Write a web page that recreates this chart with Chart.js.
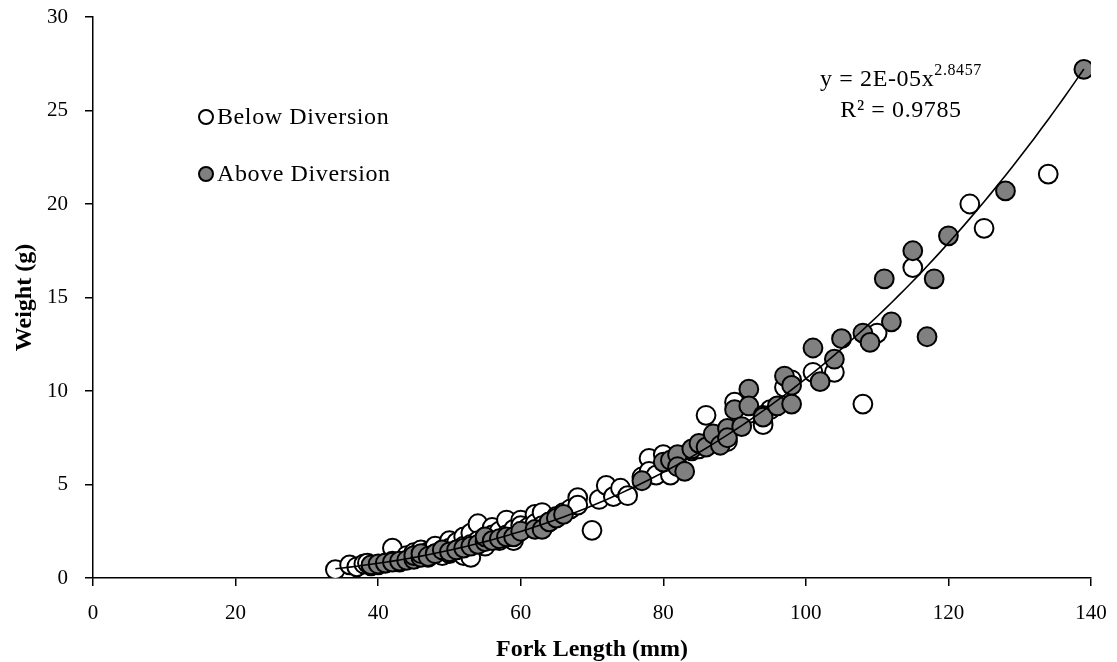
<!DOCTYPE html>
<html>
<head>
<meta charset="utf-8">
<script src="https://cdn.jsdelivr.net/npm/chart.js@4.4.0/dist/chart.umd.min.js"></script>
<style>
html, body { margin: 0; padding: 0; background: #fff; }
</style>
</head>
<body>
<canvas id="myChart" width="1117" height="662"></canvas>
<script>
// Below Diversion (white markers)
var belowX = [34, 36, 37, 38, 38.5, 39, 40, 41, 42, 42, 43, 44, 44, 45, 45, 46, 46, 47, 47, 48, 48, 49, 49,
    50, 50, 50, 51, 51, 52, 52, 52, 53, 53, 53, 54, 54, 55, 55, 56, 56, 57, 57, 58, 58, 59, 59, 60, 60,
    61, 62, 62, 63, 63, 64, 65, 66, 67, 68, 68, 70, 71, 72, 73, 74, 75, 77, 78, 78, 79, 80, 81, 82, 84,
    85, 86, 87, 88, 89, 90, 91, 92, 94, 95, 97, 98, 101, 104, 108, 110, 115, 123, 125, 134];
var belowY = [0.45, 0.7, 0.6, 0.75, 0.8, 0.65, 0.7, 0.8, 1.6, 0.9, 0.85, 1.0, 1.2, 1.1, 1.35, 1.5, 1.2, 1.4, 1.1, 1.7, 1.3, 1.5, 1.2,
    2.0, 1.6, 1.3, 1.9, 1.5, 2.2, 1.7, 1.2, 2.4, 1.1, 1.8, 2.9, 2.0, 2.2, 1.7, 2.7, 2.3, 2.5, 2.0, 3.1, 2.3, 2.6, 2.0, 3.1, 2.8,
    2.7, 3.4, 2.9, 3.5, 2.8, 3.0, 3.3, 3.5, 3.7, 4.3, 3.9, 2.55, 4.2, 4.95, 4.35, 4.8, 4.4, 5.4, 6.4, 5.7, 5.5, 6.6, 5.5, 6.0, 6.8,
    6.9, 8.7, 7.2, 7.6, 7.3, 9.4, 8.5, 8.8, 8.2, 9.0, 10.2, 10.6, 11.0, 11.0, 9.3, 13.1, 16.6, 20.0, 18.7, 21.6];

// Above Diversion (grey markers)
var aboveX = [39, 40, 41, 42, 43, 44, 45, 45, 46, 46, 47, 48, 49, 50, 51, 52, 53, 54, 55, 55, 56, 57, 58, 59,
    60, 62, 63, 64, 65, 66, 77, 80, 81, 82, 82, 83, 84, 85, 86, 87, 88, 89, 89, 90, 91, 92, 92, 94, 94,
    96, 97, 98, 98, 101, 102, 104, 105, 108, 109, 111, 112, 115, 117, 118, 120, 128, 139];
var aboveY = [0.7, 0.75, 0.8, 0.85, 0.9, 0.95, 1.0, 1.2, 1.1, 1.3, 1.15, 1.3, 1.5, 1.4, 1.5, 1.6, 1.7, 1.8, 1.95, 2.2, 2.0, 2.1, 2.2, 2.2,
    2.5, 2.6, 2.6, 3.0, 3.2, 3.4, 5.2, 6.2, 6.3, 6.6, 5.95, 5.7, 6.9, 7.2, 7.0, 7.7, 7.1, 8.0, 7.5, 9.0, 8.1, 10.1, 9.2, 8.7, 8.6,
    9.2, 10.8, 10.3, 9.3, 12.3, 10.5, 11.7, 12.8, 13.1, 12.6, 16.0, 13.7, 17.5, 12.9, 16.0, 18.3, 20.7, 27.2];

var xTicks = [0, 20, 40, 60, 80, 100, 120, 140];
var yTicks = [0, 5, 10, 15, 20, 25, 30];

// power trendline y = a * x^b as fitted in the chart
var fitA = 2.17e-5;
var fitB = 2.8457;
var fitFrom = 34, fitTo = 139;

function toPoints(xs, ys) {
    return xs.map(function (x, i) { return { x: x, y: ys[i] }; });
}

var trend = [];
for (var x = fitFrom; x <= fitTo; x += 1) {
    trend.push({ x: x, y: fitA * Math.pow(x, fitB) });
}

var serif = "'Liberation Serif', 'DejaVu Serif', serif";

// legend + equation drawn inside the plot
var notes = {
    id: 'notes',
    afterDraw: function (chart) {
        var c = chart.ctx;
        c.save();
        c.letterSpacing = '0.6px';
        var items = [
            { label: 'Below Diversion', fill: '#ffffff', y: 117 },
            { label: 'Above Diversion', fill: '#808080', y: 174 }
        ];
        items.forEach(function (it) {
            c.beginPath();
            c.arc(206, it.y, 7, 0, Math.PI * 2);
            c.fillStyle = it.fill;
            c.fill();
            c.lineWidth = 2;
            c.strokeStyle = '#000';
            c.stroke();
            c.fillStyle = '#000';
            c.font = '24px ' + serif;
            c.textBaseline = 'middle';
            c.textAlign = 'left';
            c.fillText(it.label, 217, it.y + 1);
        });

        // equation
        var main = 'y = 2E-05x', sup = '2.8457';
        c.font = '24px ' + serif;
        var w1 = c.measureText(main).width;
        c.font = '16px ' + serif;
        var w2 = c.measureText(sup).width;
        var cx = 901;
        var sx = cx - (w1 + w2) / 2;
        c.textAlign = 'left';
        c.textBaseline = 'middle';
        c.font = '24px ' + serif;
        c.fillText(main, sx, 80);
        c.font = '16px ' + serif;
        c.fillText(sup, sx + w1, 71);
        c.font = '24px ' + serif;
        c.textAlign = 'center';
        c.fillText('R\u00B2 = 0.9785', cx, 111);
        c.restore();
    }
};

var ctx = document.getElementById('myChart').getContext('2d');

var myChart = new Chart(ctx, {
    type: 'scatter',
    data: {
        datasets: [{
            label: 'Power fit',
            type: 'line',
            data: trend,
            borderColor: '#000',
            borderWidth: 1.6,
            pointRadius: 0,
            fill: false,
            tension: 0,
            order: 0
        }, {
            label: 'Above Diversion',
            data: toPoints(aboveX, aboveY),
            backgroundColor: '#808080',
            borderColor: '#000',
            borderWidth: 2,
            pointRadius: 9.4,
            order: 1
        }, {
            label: 'Below Diversion',
            data: toPoints(belowX, belowY),
            backgroundColor: '#ffffff',
            borderColor: '#000',
            borderWidth: 2,
            pointRadius: 9.4,
            order: 2
        }]
    },
    options: {
        responsive: false,
        animation: false,
        devicePixelRatio: 1,
        events: [],
        layout: {
            padding: { left: 0, top: 17, right: 26, bottom: 0 }
        },
        plugins: {
            legend: { display: false },
            tooltip: { enabled: false }
        },
        scales: {
            x: {
                type: 'linear',
                min: 0,
                max: 140,
                afterBuildTicks: function (s) { s.ticks = xTicks.map(function (v) { return { value: v }; }); },
                afterFit: function (s) {
                    s.height = 84;
                    s.paddingLeft = 0;
                    s.paddingRight = 0;
                },
                ticks: {
                    color: '#000',
                    padding: 15,
                    font: { family: serif, size: 21 }
                },
                grid: {
                    drawOnChartArea: false,
                    color: '#000',
                    lineWidth: 1.5,
                    tickLength: 8
                },
                border: { display: true, color: '#000', width: 1.5 },
                title: {
                    display: true,
                    text: 'Fork Length (mm)',
                    color: '#000',
                    font: { family: serif, size: 24, weight: 'bold', lineHeight: 1 },
                    padding: { top: 0, bottom: 0 }
                }
            },
            y: {
                type: 'linear',
                min: 0,
                max: 30,
                afterBuildTicks: function (s) { s.ticks = yTicks.map(function (v) { return { value: v }; }); },
                afterFit: function (s) {
                    s.width = 93;
                    s.paddingTop = 0;
                    s.paddingBottom = 0;
                },
                ticks: {
                    color: '#000',
                    padding: 17,
                    font: { family: serif, size: 21 }
                },
                grid: {
                    drawOnChartArea: false,
                    color: '#000',
                    lineWidth: 1.5,
                    tickLength: 8
                },
                border: { display: true, color: '#000', width: 1.5 },
                title: {
                    display: true,
                    text: 'Weight (g)',
                    color: '#000',
                    font: { family: serif, size: 24, weight: 'bold', lineHeight: 1 },
                    padding: { top: 13, bottom: 0 }
                }
            }
        }
    },
    plugins: [notes]
});
</script>
</body>
</html>
